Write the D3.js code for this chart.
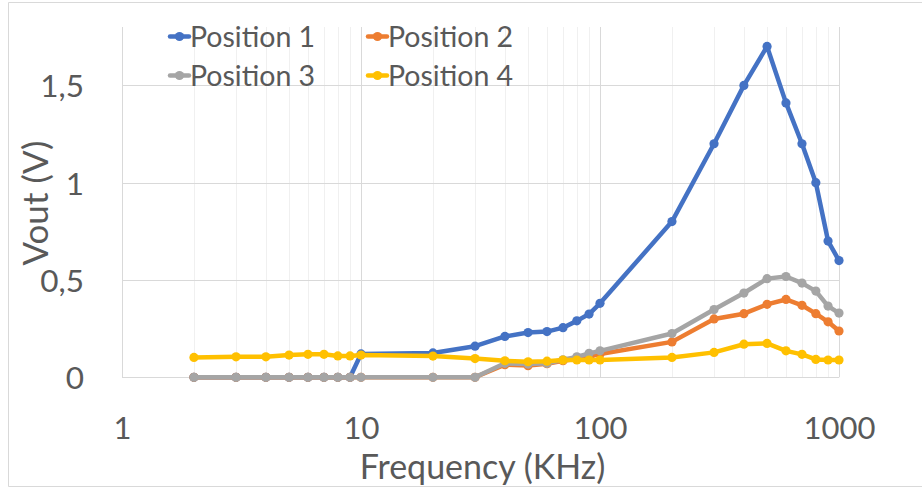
<!DOCTYPE html>
<html><head><meta charset="utf-8">
<script src="https://cdn.jsdelivr.net/npm/d3@7"></script>
<style>
html,body{margin:0;padding:0;background:#fff;}
svg{display:block;font-family:Lato,"Open Sans",sans-serif;}
</style></head>
<body><svg id="c" width="922" height="489"></svg>
<script>
const freqs = [2,3,4,5,6,7,8,9,10,20,30,40,50,60,70,80,90,100,200,300,400,500,600,700,800,900,1000];
const position1 = [0,0,0,0,0,0,0,0,0.12,0.125,0.16,0.21,0.23,0.235,0.255,0.29,0.325,0.38,0.8,1.2,1.5,1.7,1.41,1.2,1.0,0.7,0.6];
const position2 = [0,0,0,0,0,0,0,0,0,0,0,0.065,0.06,0.07,0.085,0.095,0.105,0.12,0.182,0.3,0.327,0.375,0.4,0.37,0.327,0.285,0.238];
const position3 = [0,0,0,0,0,0,0,0,0,0,0,0.072,0.068,0.072,0.09,0.105,0.123,0.136,0.225,0.348,0.433,0.507,0.518,0.484,0.443,0.366,0.33];
const position4 = [0.102,0.105,0.105,0.114,0.118,0.118,0.11,0.11,0.114,0.109,0.096,0.085,0.08,0.083,0.089,0.089,0.089,0.089,0.102,0.128,0.17,0.174,0.136,0.118,0.092,0.089,0.089];
const seriesNames = ["Position 1","Position 2","Position 3","Position 4"];
const seriesColors = ["#4472C4","#ED7D31","#A5A5A5","#FFC000"];
const xTicks = [1,10,100,1000];
const yTicks = [0,0.5,1,1.5];
const xTitle = "Frequency (KHz)";
const yTitle = "Vout (V)";

const svg = d3.select("#c");
const W = 922, H = 489;
const plot = {l:122, r:839, t:27, b:377.3};
const x = d3.scaleLog().domain([1,1000]).range([plot.l, plot.r]);
const y = d3.scaleLinear().domain([0,1.8]).range([plot.b, plot.t]);
const txt = "#595959";

// chart border
svg.append("path").attr("d",`M${W+2},2.5H8.5V486.5H${W+2}`).attr("fill","none").attr("stroke","#d9d9d9").attr("stroke-width",1);

// vertical gridlines (minor and major)
const minor = [];
for (let d = 1; d < 1000; d *= 10) for (let k = 2; k <= 9; k++) minor.push(d*k);
svg.append("g").selectAll("line").data(minor).join("line")
  .attr("x1", d => Math.round(x(d))+0.5).attr("x2", d => Math.round(x(d))+0.5)
  .attr("y1", plot.t).attr("y2", plot.b).attr("stroke","#f0f0f0").attr("stroke-width",1);
svg.append("g").selectAll("line").data(xTicks).join("line")
  .attr("x1", d => Math.round(x(d))+0.5).attr("x2", d => Math.round(x(d))+0.5)
  .attr("y1", plot.t).attr("y2", plot.b).attr("stroke","#d9d9d9").attr("stroke-width",1);
// horizontal gridlines
svg.append("g").selectAll("line").data(yTicks).join("line")
  .attr("x1", plot.l).attr("x2", plot.r)
  .attr("y1", d => Math.round(y(d))+0.5).attr("y2", d => Math.round(y(d))+0.5)
  .attr("stroke","#d9d9d9").attr("stroke-width",1);

// axes labels
const fmt = d => String(d).replace(".", ",");
const xAxis = d3.axisBottom(x).tickValues(xTicks).tickFormat(d => String(d)).tickSize(0).tickPadding(0);
const gx = svg.append("g").attr("transform",`translate(0,${plot.b})`).call(xAxis);
gx.select(".domain").remove();
gx.selectAll("text").attr("fill",txt).attr("font-size",31).attr("font-family","Lato").attr("dy",null).attr("y",61.5);

const yAxis = d3.axisLeft(y).tickValues(yTicks).tickFormat(fmt).tickSize(0).tickPadding(0);
const gy = svg.append("g").attr("transform",`translate(84,0)`).call(yAxis);
gy.select(".domain").remove();
gy.selectAll("text").attr("fill",txt).attr("font-size",31.5).attr("font-family","Lato").attr("dy","0.36em").attr("x",0);

// titles
svg.append("text").attr("x",(plot.l+plot.r)/2+2).attr("y",478.5).attr("text-anchor","middle")
  .attr("fill",txt).attr("font-size",34).text(xTitle);
svg.append("text").attr("transform",`translate(48,${(plot.t+plot.b)/2+1}) rotate(-90)`).attr("text-anchor","middle")
  .attr("fill",txt).attr("font-size",35).text(yTitle);

// series
const allSeries = [position1, position2, position3, position4];
const line = d3.line().x((d,i) => x(freqs[i])).y(d => y(d));
allSeries.forEach((vals, si) => {
  const g = svg.append("g");
  g.append("path").datum(vals).attr("d", line).attr("fill","none")
    .attr("stroke", seriesColors[si]).attr("stroke-width",4.5).attr("stroke-linejoin","round").attr("stroke-linecap","round");
  g.selectAll("circle").data(vals).join("circle")
    .attr("cx",(d,i) => x(freqs[i])).attr("cy", d => y(d)).attr("r",4.6).attr("fill",seriesColors[si]);
});

// legend
const legPos = [[170,36.5],[368,36.5],[170,75.5],[368,75.5]];
seriesNames.forEach((n, i) => {
  const [lx, ly] = legPos[i];
  const g = svg.append("g").attr("transform",`translate(${lx},${ly})`);
  g.append("line").attr("x1",0).attr("x2",19).attr("y1",0).attr("y2",0).attr("stroke",seriesColors[i]).attr("stroke-width",4.5).attr("stroke-linecap","round");
  g.append("circle").attr("cx",9.5).attr("cy",0).attr("r",4.6).attr("fill",seriesColors[i]);
  g.append("text").attr("x",20).attr("y",0).attr("dy","0.36em").attr("fill",txt).attr("font-size",28.5).text(n);
});
</script></body></html>
